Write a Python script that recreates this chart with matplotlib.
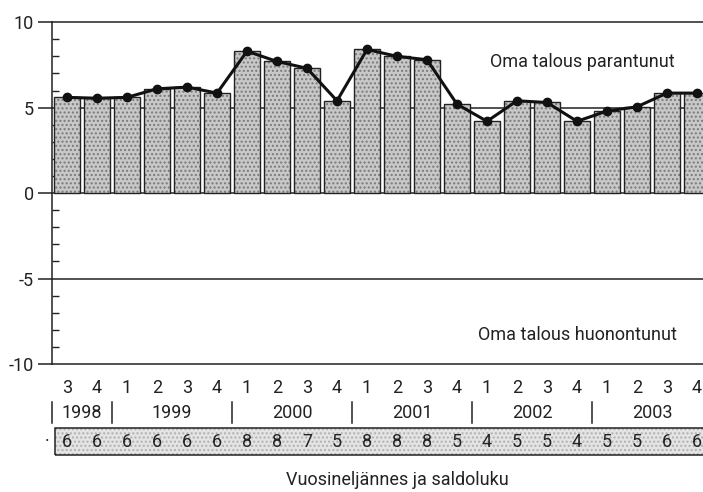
import numpy as np
import matplotlib.pyplot as plt
from matplotlib.patches import Rectangle

plt.rcParams['font.family'] = ['Roboto', 'DejaVu Sans']
plt.rcParams['axes.unicode_minus'] = False

# Quarterly balance figures 1998Q3 - 2003Q4
quarters = [3, 4, 1, 2, 3, 4, 1, 2, 3, 4, 1, 2, 3, 4, 1, 2, 3, 4, 1, 2, 3, 4]
values = [5.6, 5.55, 5.6, 6.1, 6.2, 5.85, 8.3, 7.7, 7.3, 5.4, 8.4,
          8.0, 7.8, 5.2, 4.2, 5.4, 5.3, 4.2, 4.8, 5.05, 5.85, 5.85]
saldo = [6, 6, 6, 6, 6, 6, 8, 8, 7, 5, 8, 8, 8, 5, 4, 5, 5, 4, 5, 5, 6, 6]
years = ['1998', '1999', '2000', '2001', '2002', '2003']
year_len = [2, 4, 4, 4, 4, 4]

x = np.arange(len(values))
txt = '#222222'

fig = plt.figure(figsize=(7.03, 4.92), dpi=100)
ax = fig.add_axes([0.074, 0.26, 0.926, 0.695])

# grid lines
for yv in [-10, -5, 0, 5, 10]:
    ax.axhline(yv, color=txt, lw=1.1, zorder=1, clip_on=False)

# bars with stipple pattern
ax.bar(x, values, width=0.86, color='#c8c8c8', hatch='....', edgecolor='#7a7a7a',
       linewidth=0, zorder=2)
ax.bar(x, values, width=0.86, fill=False, edgecolor=txt, linewidth=1.0, zorder=3)

# line with markers
ax.plot(x, values, color='#111111', lw=2.2, marker='o', markersize=6, zorder=4)

ax.set_xlim(-0.5, 21.2)
ax.set_ylim(-10, 10)
for s in ['top', 'right', 'bottom']:
    ax.spines[s].set_visible(False)
ax.spines['left'].set_linewidth(1.1)
ax.spines['left'].set_color(txt)
ax.set_xticks([])
ax.set_yticks([-10, -5, 0, 5, 10])
ax.set_yticks(np.arange(-10, 11, 1), minor=True)
ax.tick_params(axis='y', which='major', length=10, width=1.1, labelsize=13, pad=3,
               labelcolor=txt, color=txt)
ax.tick_params(axis='y', which='minor', direction='in', length=5, width=1.0, color=txt)

ax.text(0.957, 0.883, 'Oma talous parantunut', transform=ax.transAxes,
        ha='right', va='center', fontsize=13, color=txt)
ax.text(0.96, 0.085, 'Oma talous huonontunut', transform=ax.transAxes,
        ha='right', va='center', fontsize=13, color=txt)

tr = ax.get_xaxis_transform()

# quarter labels
for xi, q in zip(x, quarters):
    ax.text(xi, -0.07, str(q), transform=tr, ha='center', va='center',
            fontsize=13, color=txt)

# year labels with separators
start = 0
for yr, n in zip(years, year_len):
    ax.plot([start - 0.5, start - 0.5], [-0.112, -0.172], transform=tr,
            color=txt, lw=1.1, clip_on=False)
    ax.text(start + (n - 1) / 2, -0.143, yr, transform=tr, ha='center', va='center',
            fontsize=13, color=txt)
    start += n

# saldo box
ax.add_patch(Rectangle((-0.4, -0.266), 23, 0.079, transform=tr, clip_on=False,
                       facecolor='#e4e4e4', hatch='....', edgecolor='#b0b0b0',
                       linewidth=0, zorder=1))
ax.add_patch(Rectangle((-0.4, -0.266), 23, 0.079, transform=tr, clip_on=False,
                       fill=False, edgecolor=txt, linewidth=1.1, zorder=2))
for xi, s in zip(x, saldo):
    ax.text(xi, -0.228, str(s), transform=tr, ha='center', va='center',
            fontsize=13, color=txt, zorder=5)
ax.text(-0.67, -0.228, '·', transform=tr, ha='center', va='center',
        fontsize=13, color=txt)

fig.text(0.565, 0.025, 'Vuosineljännes ja saldoluku', ha='center', va='center',
         fontsize=13, color=txt)

fig.savefig('out.png', dpi=100)
